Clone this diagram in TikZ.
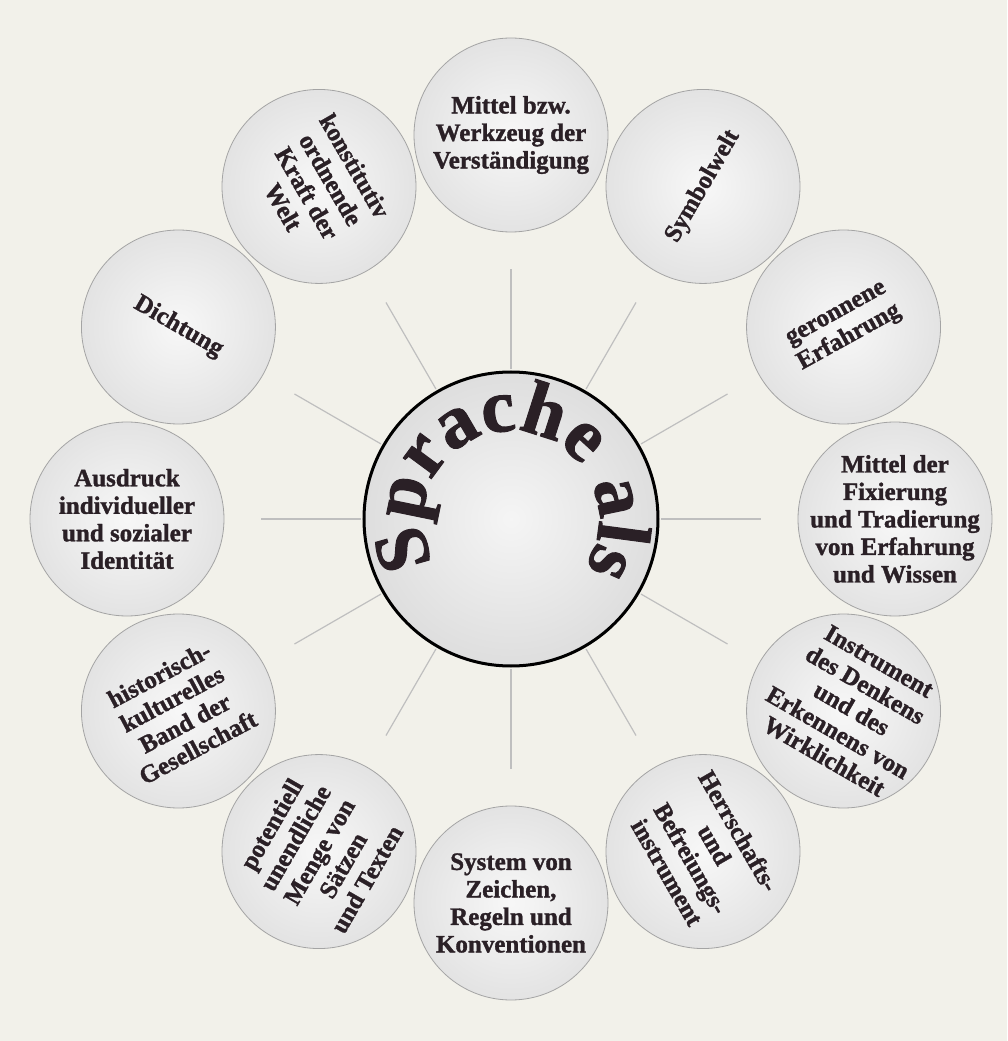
\documentclass[tikz,border=0pt]{standalone}
\usepackage{fontspec}
\setmainfont{Liberation Serif}
\newfontfamily\dickfont[FakeBold=1.3]{Liberation Serif}
\usetikzlibrary{decorations.text}
\definecolor{papier}{HTML}{F2F1EA}
\definecolor{tinte}{HTML}{2A2026}
\definecolor{rand}{HTML}{A4A4A4}
\tikzset{
  kreis/.style={circle, minimum size=194pt, inner sep=0pt, draw=rand, line width=0.8pt, inner color=gray!6, outer color=gray!22},
  mitte/.style={circle, minimum size=294pt, inner sep=0pt, draw=black, line width=3pt, inner color=gray!8, outer color=gray!26},
  beschrift/.style={align=center, font=\dickfont\bfseries\fontsize{25}{27.5}\selectfont, text=tinte},
  strahl/.style={draw=gray!50, line width=1.2pt, shorten <=1.5pt}
}
\begin{document}
\begin{tikzpicture}[x=1pt,y=1pt]
    \fill[papier] (-511,-522) rectangle (496,519);
    \useasboundingbox (-511,-522) rectangle (496,519);

    %kreis in der mitte
    \node[mitte] (sprache) at (0,0) {};
    \path[decorate, decoration={text along path, text align=center,
        text={|\dickfont\bfseries\fontsize{76}{76}\selectfont\color{tinte}|Sprache als}}]
        (226:88pt) arc[start angle=226, end angle=-50, radius=88pt];

    %strahlen
    \coordinate (e1) at (90:250);
    \coordinate (e2) at (60:250);
    \coordinate (e3) at (30:250);
    \coordinate (e4) at (0:250);
    \coordinate (e5) at (-30:250);
    \coordinate (e6) at (-60:250);
    \coordinate (e7) at (-90:250);
    \coordinate (e8) at (-120:250);
    \coordinate (e9) at (-150:250);
    \coordinate (e10) at (180:250);
    \coordinate (e11) at (150:250);
    \coordinate (e12) at (120:250);
    \draw[strahl] (sprache.90) -- (e1);
    \draw[strahl] (sprache.60) -- (e2);
    \draw[strahl] (sprache.30) -- (e3);
    \draw[strahl] (sprache.0) -- (e4);
    \draw[strahl] (sprache.-30) -- (e5);
    \draw[strahl] (sprache.-60) -- (e6);
    \draw[strahl] (sprache.-90) -- (e7);
    \draw[strahl] (sprache.-120) -- (e8);
    \draw[strahl] (sprache.-150) -- (e9);
    \draw[strahl] (sprache.180) -- (e10);
    \draw[strahl] (sprache.150) -- (e11);
    \draw[strahl] (sprache.120) -- (e12);

    %kreise aussen
    \node[kreis] (k1) at (90:384) {};
    \node[kreis] (k2) at (60:384) {};
    \node[kreis] (k3) at (30:384) {};
    \node[kreis] (k4) at (0:384) {};
    \node[kreis] (k5) at (-30:384) {};
    \node[kreis] (k6) at (-60:384) {};
    \node[kreis] (k7) at (-90:384) {};
    \node[kreis] (k8) at (-120:384) {};
    \node[kreis] (k9) at (-150:384) {};
    \node[kreis] (k10) at (180:384) {};
    \node[kreis] (k11) at (150:384) {};
    \node[kreis] (k12) at (120:384) {};

    %texte
    \node[beschrift] (t1) at (k1) {Mittel bzw.\\Werkzeug der\\Verständigung};
    \node[beschrift, rotate=60] (t2) at (k2) {Symbolwelt};
    \node[beschrift, rotate=29] (t3) at (k3) {geronnene\\Erfahrung};
    \node[beschrift] (t4) at (k4) {Mittel der\\Fixierung\\und Tradierung\\von Erfahrung\\und Wissen};
    \node[beschrift, rotate=-30] (t5) at ([shift={(8,2)}]k5) {Instrument\\des Denkens\\und des\\Erkennens von\\Wirklichkeit};
    \node[beschrift, rotate=-60] (t6) at (k6) {Herrschafts-\\und\\Befreiungs-\\instrument};
    \node[beschrift] (t7) at (k7) {System von\\Zeichen,\\Regeln und\\Konventionen};
    \node[beschrift, rotate=60] (t8) at (k8) {potentiell\\unendliche\\Menge von\\Sätzen\\und Texten};
    \node[beschrift, rotate=28] (t9) at (k9) {historisch-\\kulturelles\\Band der\\Gesellschaft};
    \node[beschrift] (t10) at (k10) {Ausdruck\\individueller\\und sozialer\\Identität};
    \node[beschrift, rotate=-30] (t11) at (k11) {Dichtung};
    \node[beschrift, rotate=-60] (t12) at (k12) {konstitutiv\\ordnende\\Kraft der\\Welt};
\end{tikzpicture}
\end{document}
